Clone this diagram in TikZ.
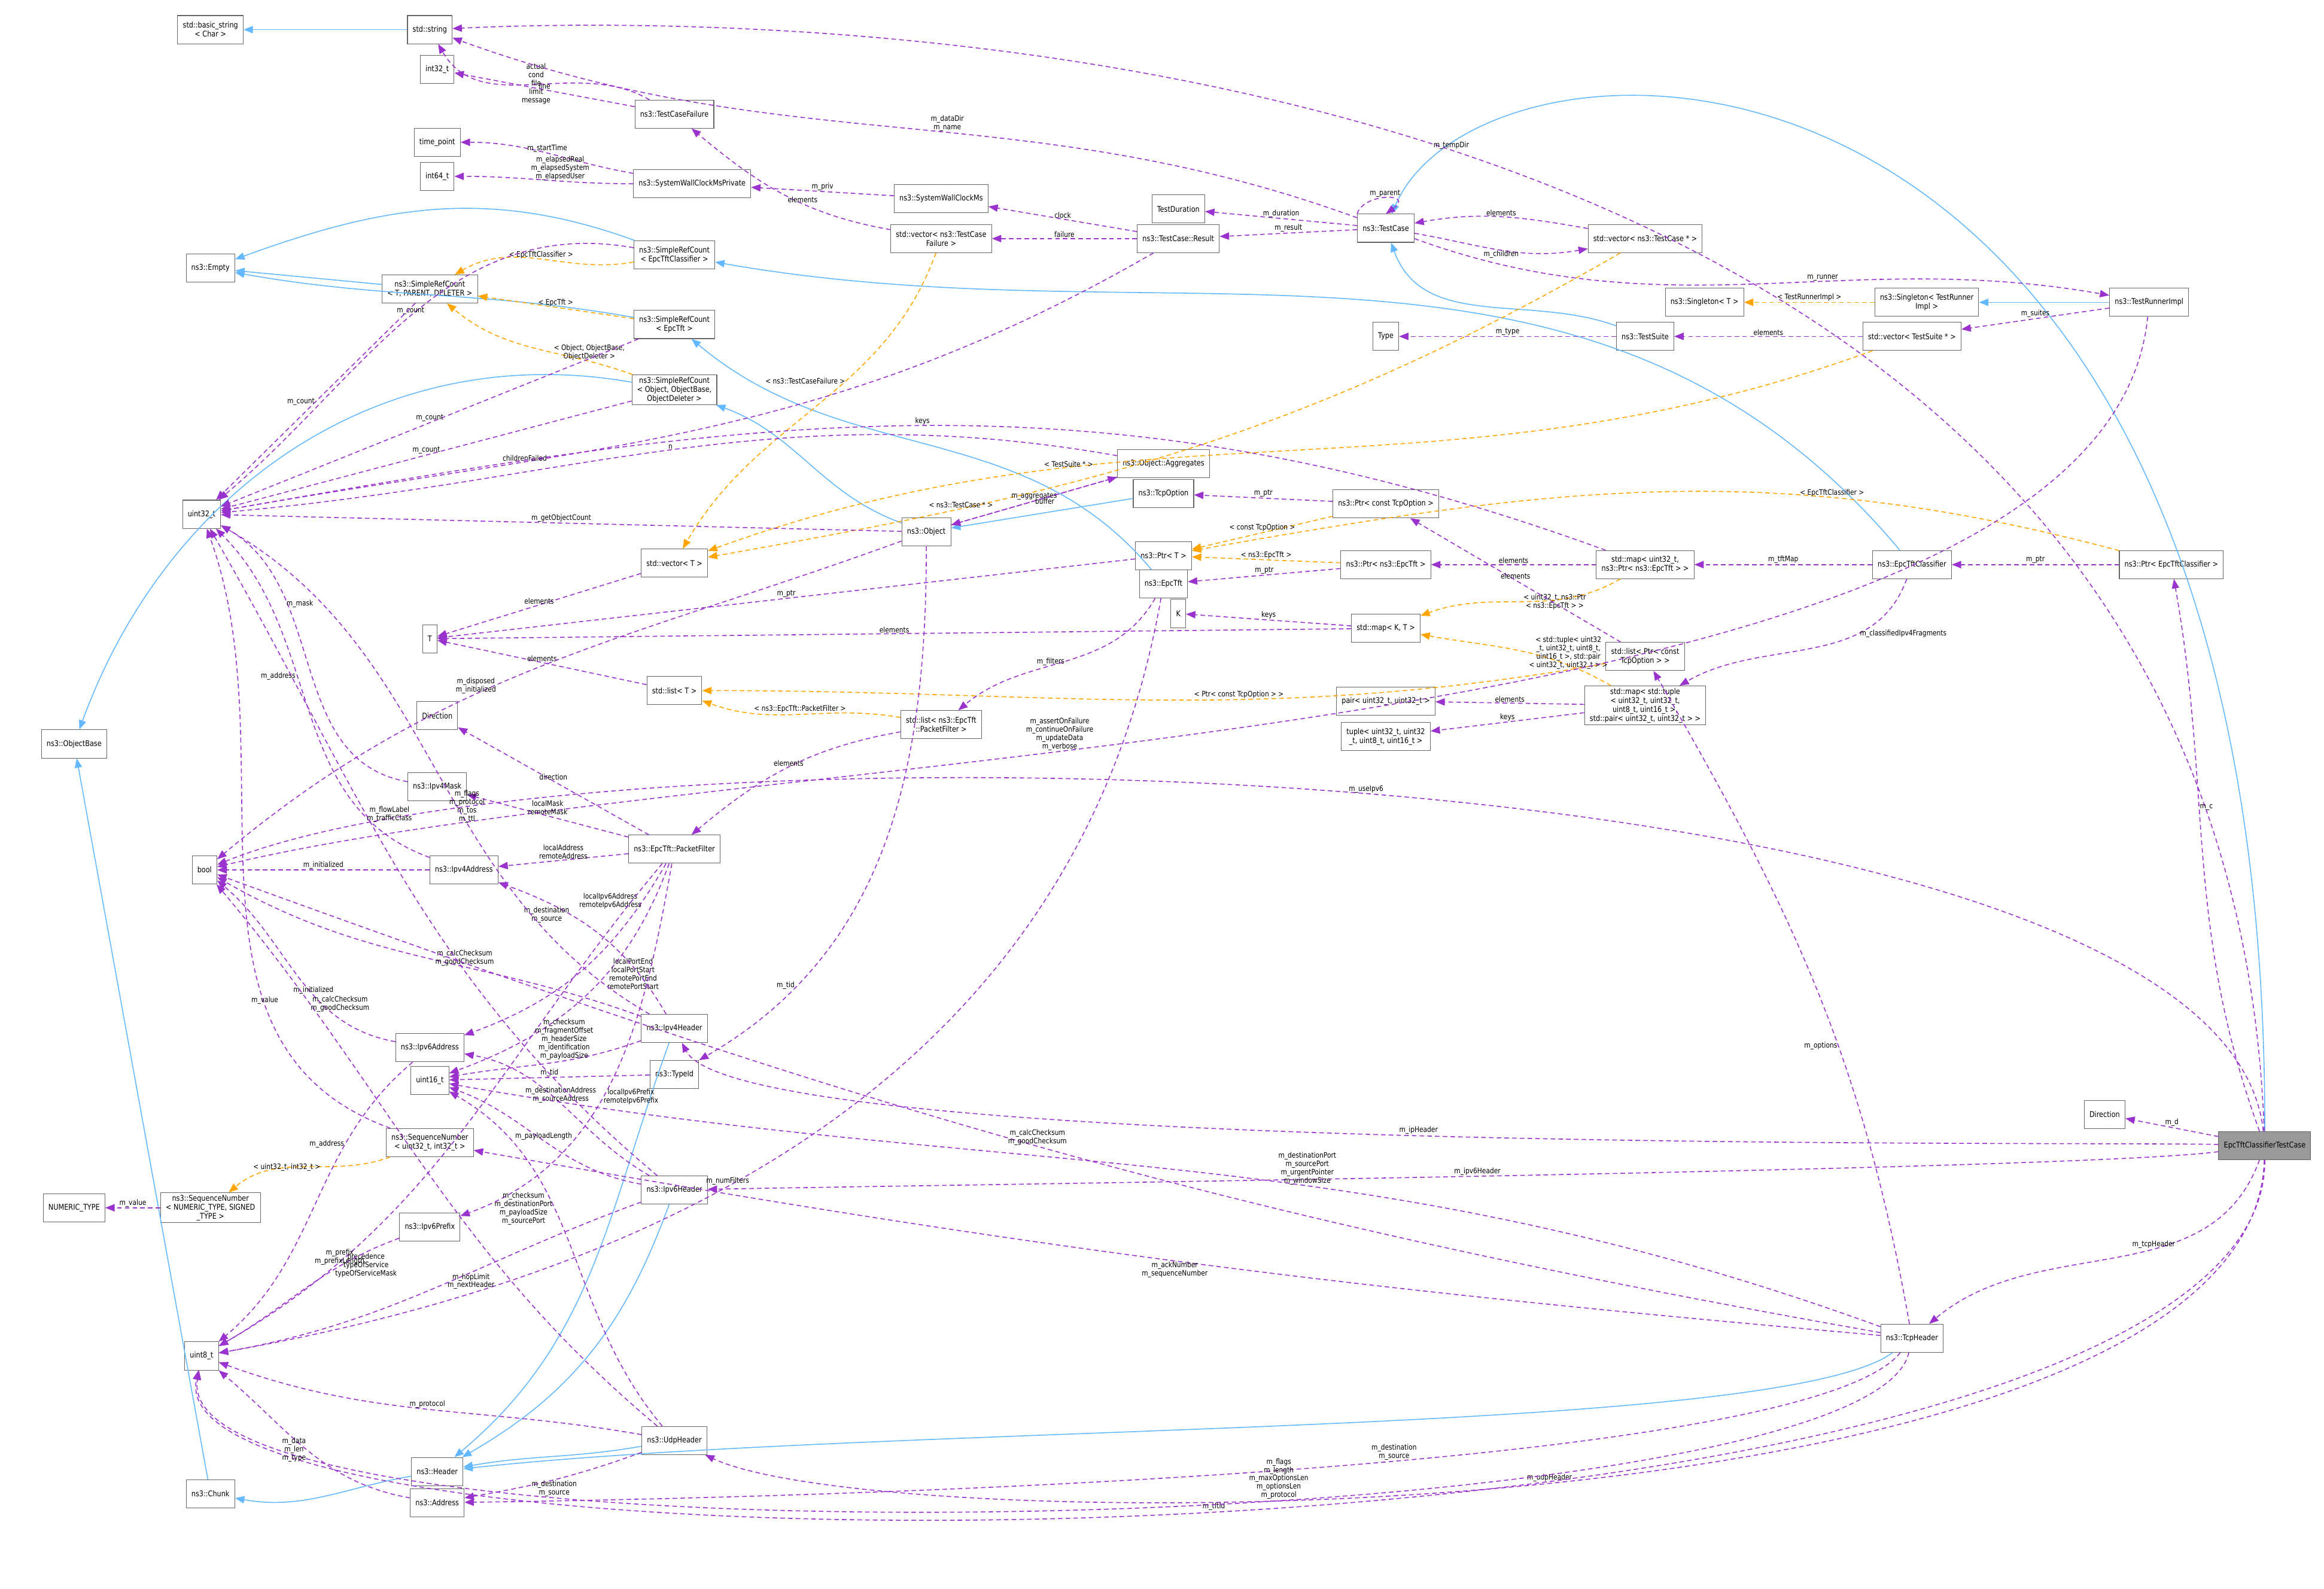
\documentclass[tikz,border=0pt]{standalone}
\usepackage{fontspec}
\setmainfont{DejaVu Sans}[FakeStretch=0.85]
\usetikzlibrary{arrows.meta}
\definecolor{usecol}{HTML}{9A32CD}
\definecolor{inhcol}{HTML}{63B8FF}
\definecolor{tplcol}{HTML}{FFA500}
\begin{document}
\begin{tikzpicture}[x=0.025cm,y=-0.025cm,
	cls/.style={
		rectangle,
		draw=black!60,
		line width=0.3pt,
		fill=white,
		align=center,
		inner xsep=2.5pt,
		inner ysep=1pt,
		minimum height=0.475cm,
		font=\fontsize{3.8}{4.3}\selectfont
	},
	mainbox/.style={
		cls,
		fill=black!40
	},
	use/.style={
		draw=usecol,
		line width=0.45pt,
		dash pattern=on 2.2pt off 1.5pt,
		-{Triangle[length=4.5pt,width=3.5pt,fill=usecol]}
	},
	inh/.style={
		draw=inhcol,
		line width=0.45pt,
		-{Triangle[length=4.5pt,width=3.5pt,fill=inhcol]}
	},
	tpl/.style={
		draw=tplcol,
		line width=0.45pt,
		dash pattern=on 2.2pt off 1.5pt,
		-{Triangle[length=4.5pt,width=3.5pt,fill=tplcol]}
	},
	lbl/.style={
		align=center,
		inner sep=0.3pt,
		font=\fontsize{3.6}{4}\selectfont
	},
]
\useasboundingbox (0,0) rectangle (1568,1072);

% left column
\node[cls] (bstr) at (142,20) {std::basic\_string\\< Char >};
\node[cls] (string) at (290,20) {std::string};
\node[cls] (int32) at (295,47) {int32\_t};
\node[cls] (timepoint) at (295,96) {time\_point};
\node[cls] (int64) at (295,119) {int64\_t};
\node[cls] (empty) at (142,181) {ns3::Empty};
\node[cls] (objbase) at (50,502) {ns3::ObjectBase};
\node[cls] (u32) at (136,347) {uint32\_t};
\node[cls] (T) at (290,431) {T};
\node[cls] (dirpf) at (295,483) {Direction};
\node[cls] (bool) at (138,587) {bool};
\node[cls] (ipv4mask) at (295,531) {ns3::Ipv4Mask};
\node[cls] (ipv4addr) at (313,587) {ns3::Ipv4Address};
\node[cls] (ipv6addr) at (290,707) {ns3::Ipv6Address};
\node[cls] (u16) at (290,729) {uint16\_t};
\node[cls] (seqU) at (290,771) {ns3::SequenceNumber\\< uint32\_t, int32\_t >};
\node[cls] (numtype) at (50,815) {NUMERIC\_TYPE};
\node[cls] (seqN) at (142,815) {ns3::SequenceNumber\\< NUMERIC\_TYPE, SIGNED\\\_TYPE >};
\node[cls] (ipv6prefix) at (290,828) {ns3::Ipv6Prefix};
\node[cls] (u8) at (136,915) {uint8\_t};
\node[cls] (chunk) at (142,1008) {ns3::Chunk};
\node[cls] (header) at (295,993) {ns3::Header};
\node[cls] (address) at (295,1014) {ns3::Address};

% middle column
\node[cls] (failure) at (455,77) {ns3::TestCaseFailure};
\node[cls] (swcpriv) at (467,124) {ns3::SystemWallClockMsPrivate};
\node[cls] (srcCls) at (455,172) {ns3::SimpleRefCount\\< EpcTftClassifier >};
\node[cls] (srcTPD) at (290,195) {ns3::SimpleRefCount\\< T, PARENT, DELETER >};
\node[cls] (srcTft) at (455,219) {ns3::SimpleRefCount\\< EpcTft >};
\node[cls] (srcObj) at (455,263) {ns3::SimpleRefCount\\< Object, ObjectBase,\\ ObjectDeleter >};
\node[cls] (object) at (625,359) {ns3::Object};
\node[cls] (vecT) at (455,380) {std::vector< T >};
\node[cls] (listT) at (455,466) {std::list< T >};
\node[cls] (pf) at (455,573) {ns3::EpcTft::PacketFilter};
\node[cls] (ipv4h) at (455,694) {ns3::Ipv4Header};
\node[cls] (typeid) at (455,725) {ns3::TypeId};
\node[cls] (ipv6h) at (455,803) {ns3::Ipv6Header};
\node[cls] (udph) at (455,972) {ns3::UdpHeader};
\node[cls] (swc) at (635,134) {ns3::SystemWallClockMs};
\node[cls] (vecFail) at (635,161) {std::vector< ns3::TestCase\\Failure >};
\node[cls] (result) at (795,161) {ns3::TestCase::Result};
\node[cls] (duration) at (795,141) {TestDuration};
\node[cls] (testcase) at (935,154) {ns3::TestCase};
\node[cls] (vecTC) at (1110,161) {std::vector< ns3::TestCase * >};
\node[cls] (aggr) at (785,313) {ns3::Object::Aggregates};
\node[cls] (tcpopt) at (785,333) {ns3::TcpOption};
\node[cls] (ptrT) at (785,375) {ns3::Ptr< T >};
\node[cls] (epctft) at (785,394) {ns3::EpcTft};
\node[cls] (ptrOpt) at (935,340) {ns3::Ptr< const TcpOption >};
\node[cls] (ptrTft) at (935,381) {ns3::Ptr< ns3::EpcTft >};
\node[cls] (K) at (795,414) {K};
\node[cls] (mapKT) at (935,424) {std::map< K, T >};
\node[cls] (listPF) at (635,489) {std::list< ns3::EpcTft\\::PacketFilter >};
\node[cls] (mapTft) at (1110,381) {std::map< uint32\_t,\\ ns3::Ptr< ns3::EpcTft > >};
\node[cls] (listOpt) at (1110,443) {std::list< Ptr< const\\ TcpOption > >};
\node[cls] (pair) at (935,473) {pair< uint32\_t, uint32\_t >};
\node[cls] (tuple) at (935,497) {tuple< uint32\_t, uint32\\\_t, uint8\_t, uint16\_t >};
\node[cls] (mapTuple) at (1110,476) {std::map< std::tuple\\< uint32\_t, uint32\_t,\\ uint8\_t, uint16\_t >,\\ std::pair< uint32\_t, uint32\_t > >};
\node[cls] (classifier) at (1290,381) {ns3::EpcTftClassifier};
\node[cls] (ptrCls) at (1465,381) {ns3::Ptr< EpcTftClassifier >};
\node[cls] (singT) at (1150,204) {ns3::Singleton< T >};
\node[cls] (singR) at (1300,204) {ns3::Singleton< TestRunner\\Impl >};
\node[cls] (runner) at (1450,204) {ns3::TestRunnerImpl};
\node[cls] (type) at (935,227) {Type};
\node[cls] (suite) at (1110,227) {ns3::TestSuite};
\node[cls] (vecSuite) at (1290,227) {std::vector< TestSuite * >};
\node[cls] (dirmain) at (1420,752) {Direction};
\node[mainbox] (main) at (1528,773) {EpcTftClassifierTestCase};
\node[cls] (tcph) at (1290,903) {ns3::TcpHeader};

% inheritance
\draw[inh] (string) -- (bstr);
\draw[inh] (srcCls) to[out=160,in=20] (empty);
\draw[inh] (srcTPD) -- (empty);
\draw[inh] (srcTft) to[out=170,in=-10] (empty);
\draw[inh] (srcObj) to[out=170,in=70] (objbase);
\draw[inh] (object) to[out=160,in=-20] (srcObj);
\draw[inh] (tcpopt) -- (object);
\draw[inh] (epctft) to[out=130,in=-40] (srcTft);
\draw[inh] (classifier) to[out=130,in=-10] (srcCls);
\draw[inh] (suite) to[out=160,in=-70] (testcase);
\draw[inh] (runner) -- (singR);
\draw[inh] (main) .. controls (1530,-20) and (1000,0) .. (testcase);
\draw[inh] (ipv4h) to[out=-110,in=40] (header);
\draw[inh] (ipv6h) to[out=-110,in=30] (header);
\draw[inh] (udph) to[out=-170,in=10] (header);
\draw[inh] (tcph) .. controls (1200,970) and (600,960) .. (header);
\draw[inh] (header) to[out=-170,in=-10] (chunk);
\draw[inh] (chunk) -- (objbase);

% templates
\draw[tpl] (singR) -- node[lbl,above] {< TestRunnerImpl >} (singT);
\draw[tpl] (vecSuite) to[out=-160,in=20] node[lbl,pos=0.7,above] {< TestSuite * >} (vecT);
\draw[tpl] (vecTC) to[out=-150,in=10] node[lbl,pos=0.75,above] {< ns3::TestCase * >} (vecT);
\draw[tpl] (vecFail) to[out=-110,in=60] node[lbl,pos=0.4,left] {< ns3::TestCaseFailure >} (vecT);
\draw[tpl] (ptrCls) to[out=165,in=10] node[lbl,pos=0.3,above] {< EpcTftClassifier >} (ptrT);
\draw[tpl] (ptrTft) -- node[lbl,above] {< ns3::EpcTft >} (ptrT);
\draw[tpl] (ptrOpt) -- node[lbl,above] {< const TcpOption >} (ptrT);
\draw[tpl] (mapTft) to[out=-150,in=20] node[lbl,right,pos=0.5] {< uint32\_t, ns3::Ptr\\< ns3::EpcTft > >} (mapKT);
\draw[tpl] (mapTuple) to[out=150,in=-10] node[lbl,pos=0.45,right] {< std::tuple< uint32\\\_t, uint32\_t, uint8\_t,\\ uint16\_t >, std::pair\\< uint32\_t, uint32\_t > >} (mapKT);
\draw[tpl] (listOpt) to[out=-170,in=0] node[lbl,pos=0.4,above] {< Ptr< const TcpOption > >} (listT);
\draw[tpl] (listPF) to[out=170,in=-20] node[lbl,above] {< ns3::EpcTft::PacketFilter >} (listT);
\draw[tpl] (srcCls) to[out=-170,in=30] node[lbl,above] {< EpcTftClassifier >} (srcTPD);
\draw[tpl] (srcTft) -- node[lbl,above] {< EpcTft >} (srcTPD);
\draw[tpl] (srcObj) to[out=160,in=-40] node[lbl,pos=0.4,right] {< Object, ObjectBase,\\ ObjectDeleter >} (srcTPD);
\draw[tpl] (seqU) to[out=-160,in=40] node[lbl,pos=0.4,left] {< uint32\_t, int32\_t >} (seqN);

% members
\draw[use] (failure) to[out=150,in=-60] node[lbl,pos=0.55,right] {actual\\cond\\file\\limit\\message} (string);
\draw[use] (failure) -- node[lbl,above] {line} (int32);
\draw[use] (swcpriv) to[out=170,in=0] node[lbl,above] {m\_startTime} (timepoint);
\draw[use] (swcpriv) to[out=180,in=0] node[lbl,above,pos=0.4] {m\_elapsedReal\\m\_elapsedSystem\\m\_elapsedUser} (int64);
\draw[use] (swc) -- node[lbl,above] {m\_priv} (swcpriv);
\draw[use] (result) -- node[lbl,above] {clock} (swc);
\draw[use] (result) -- node[lbl,above] {failure} (vecFail);
\draw[use] (vecFail) to[out=170,in=-40] node[lbl,above,pos=0.4] {elements} (failure);
\draw[use] (testcase) -- node[lbl,above] {m\_duration} (duration);
\draw[use] (testcase) -- node[lbl,above] {m\_result} (result);
\draw[use] (testcase.north west) .. controls (920,130) and (955,130) .. node[lbl,above] {m\_parent} (testcase.north);
\draw[use] (testcase) to[out=160,in=-20] node[lbl,above,pos=0.45] {m\_dataDir\\m\_name} (string);
\draw[use] (vecTC) to[out=170,in=10] node[lbl,above] {elements} (testcase);
\draw[use] (testcase) to[out=-10,in=-170] node[lbl,below] {m\_children} (vecTC);
\draw[use] (testcase) to[out=-20,in=170] node[lbl,above,pos=0.6] {m\_runner} (runner);
\draw[use] (result) to[out=-150,in=10] node[lbl,above,pos=0.7] {childrenFailed} (u32);
\draw[use] (runner) -- node[lbl,above] {m\_suites} (vecSuite);
\draw[use] (vecSuite) -- node[lbl,above] {elements} (suite);
\draw[use] (suite) -- node[lbl,above] {m\_type} (type);
\draw[use] (runner) .. controls (1420,510) and (500,500) .. node[lbl,pos=0.62,above] {m\_assertOnFailure\\m\_continueOnFailure\\m\_updateData\\m\_verbose} (bool);
\draw[use] (main) .. controls (1500,0) and (500,10) .. node[lbl,pos=0.5,above] {m\_tempDir} (string);
\draw[use] (main) -- node[lbl,above] {m\_d} (dirmain);
\draw[use] (main) to[out=110,in=-80] node[lbl,pos=0.6,right] {m\_c} (ptrCls);
\draw[use] (main) .. controls (1400,770) and (500,780) .. node[lbl,above,pos=0.5] {m\_ipHeader} (ipv4h);
\draw[use] (main) .. controls (1400,790) and (600,800) .. node[lbl,above,pos=0.5] {m\_ipv6Header} (ipv6h);
\draw[use] (main) to[out=-110,in=40] node[lbl,above,pos=0.4] {m\_tcpHeader} (tcph);
\draw[use] (main) .. controls (1520,1040) and (600,1040) .. node[lbl,above,pos=0.5] {m\_udpHeader} (udph);
\draw[use] (main) .. controls (1500,500) and (400,480) .. node[lbl,above,pos=0.5] {m\_useIpv6} (bool);
\draw[use] (main) .. controls (1530,1070) and (100,1080) .. node[lbl,above,pos=0.5] {m\_tftId} (u8);
\draw[use] (ptrCls) -- node[lbl,above] {m\_ptr} (classifier);
\draw[use] (classifier) -- node[lbl,above] {m\_tftMap} (mapTft);
\draw[use] (classifier) to[out=-110,in=30] node[lbl,right,pos=0.3] {m\_classifiedIpv4Fragments} (mapTuple);
\draw[use] (mapTft) -- node[lbl,above] {elements} (ptrTft);
\draw[use] (mapTft) to[out=160,in=10] node[lbl,above,pos=0.5] {keys} (u32);
\draw[use] (ptrTft) -- node[lbl,above] {m\_ptr} (epctft);
\draw[use] (epctft) to[out=-120,in=40] node[lbl,pos=0.5,left] {m\_filters} (listPF);
\draw[use] (epctft) to[out=-100,in=10] node[lbl,pos=0.6,above] {m\_numFilters} (u8);
\draw[use] (listPF) to[out=-170,in=40] node[lbl,above] {elements} (pf);
\draw[use] (mapTuple) -- node[lbl,above] {elements} (pair);
\draw[use] (mapTuple) -- node[lbl,above] {keys} (tuple);
\draw[use] (mapKT) -- node[lbl,above] {keys} (K);
\draw[use] (mapKT) -- node[lbl,above] {elements} (T);
\draw[use] (listT) -- node[lbl,above] {elements} (T);
\draw[use] (vecT) -- node[lbl,above] {elements} (T);
\draw[use] (ptrT) -- node[lbl,above] {m\_ptr} (T);
\draw[use] (listOpt) -- node[lbl,above] {elements} (ptrOpt);
\draw[use] (ptrOpt) -- node[lbl,above] {m\_ptr} (tcpopt);
\draw[use] (object) -- node[lbl,above] {m\_aggregates} (aggr);
\draw[use] (aggr) -- node[lbl,right] {buffer} (object);
\draw[use] (aggr) to[out=170,in=5] node[lbl,above] {n} (u32);
\draw[use] (object) -- node[lbl,above] {m\_getObjectCount} (u32);
\draw[use] (object) to[out=-160,in=40] node[lbl,above,pos=0.6] {m\_disposed\\m\_initialized} (bool);
\draw[use] (object) to[out=-90,in=30] node[lbl,left,pos=0.8] {m\_tid} (typeid);
\draw[use] (srcObj) -- node[lbl,above] {m\_count} (u32);
\draw[use] (srcTft) -- node[lbl,above] {m\_count} (u32);
\draw[use] (srcCls) to[out=170,in=40] node[lbl,above] {m\_count} (u32);
\draw[use] (srcTPD) -- node[lbl,left] {m\_count} (u32);
\draw[use] (typeid) -- node[lbl,above] {m\_tid} (u16);
\draw[use] (pf) -- node[lbl,above] {direction} (dirpf);
\draw[use] (pf) -- node[lbl,above] {localMask\\remoteMask} (ipv4mask);
\draw[use] (pf) -- node[lbl,above] {localAddress\\remoteAddress} (ipv4addr);
\draw[use] (pf) to[out=-120,in=20] node[lbl,pos=0.15,left] {localIpv6Address\\remoteIpv6Address} (ipv6addr);
\draw[use] (pf) to[out=-110,in=20] node[lbl,pos=0.4,right] {localPortEnd\\localPortStart\\remotePortEnd\\remotePortStart} (u16);
\draw[use] (pf) to[out=-100,in=20] node[lbl,pos=0.55,right] {localIpv6Prefix\\remoteIpv6Prefix} (ipv6prefix);
\draw[use] (pf) to[out=-130,in=30] node[lbl,pos=0.8,right] {precedence\\typeOfService\\typeOfServiceMask} (u8);
\draw[use] (ipv4mask) to[out=170,in=-30] node[lbl,pos=0.7,right] {m\_mask} (u32);
\draw[use] (ipv4addr) to[out=160,in=-45] node[lbl,pos=0.6,left] {m\_address} (u32);
\draw[use] (ipv4addr) -- node[lbl,above] {m\_initialized} (bool);
\draw[use] (ipv6addr) to[out=-140,in=40] node[lbl,pos=0.3,left] {m\_address} (u8);
\draw[use] (ipv6addr) to[out=170,in=-40] node[lbl,above,pos=0.4] {m\_initialized} (bool);
\draw[use] (ipv6prefix) to[out=-160,in=30] node[lbl,above,pos=0.3] {m\_prefix\\m\_prefixLength} (u8);
\draw[use] (seqN) -- node[lbl,above] {m\_value} (numtype);
\draw[use] (seqU) to[out=160,in=-70] node[lbl,above,pos=0.3] {m\_value} (u32);
\draw[use] (ipv4h) to[out=120,in=-20] node[lbl,left,pos=0.65] {m\_destination\\m\_source} (ipv4addr);
\draw[use] (ipv4h) to[out=160,in=-30] node[lbl,above,pos=0.4] {m\_calcChecksum\\m\_goodChecksum} (bool);
\draw[use] (ipv4h) to[out=-160,in=10] node[lbl,pos=0.4,above] {m\_checksum\\m\_fragmentOffset\\m\_headerSize\\m\_identification\\m\_payloadSize} (u16);
\draw[use] (ipv4h) to[out=150,in=-30] node[lbl,pos=0.4,above] {m\_flags\\m\_protocol\\m\_tos\\m\_ttl} (u32);
\draw[use] (ipv6h) to[out=150,in=-10] node[lbl,pos=0.5,above] {m\_destinationAddress\\m\_sourceAddress} (ipv6addr);
\draw[use] (ipv6h) to[out=140,in=-60] node[lbl,pos=0.6,right] {m\_flowLabel\\m\_trafficClass} (u32);
\draw[use] (ipv6h) to[out=170,in=-20] node[lbl,pos=0.5,above] {m\_payloadLength} (u16);
\draw[use] (ipv6h) to[out=-160,in=10] node[lbl,pos=0.4,below] {m\_hopLimit\\m\_nextHeader} (u8);
\draw[use] (udph) to[out=-160,in=10] node[lbl,pos=0.5,below] {m\_destination\\m\_source} (address);
\draw[use] (udph) to[out=140,in=-50] node[lbl,pos=0.8,right] {m\_calcChecksum\\m\_goodChecksum} (bool);
\draw[use] (udph) to[out=130,in=-30] node[lbl,pos=0.6,left] {m\_checksum\\m\_destinationPort\\m\_payloadSize\\m\_sourcePort} (u16);
\draw[use] (udph) to[out=170,in=-20] node[lbl,pos=0.5,above] {m\_protocol} (u8);
\draw[use] (tcph) to[out=100,in=-60] node[lbl,pos=0.4,left] {m\_options} (listOpt);
\draw[use] (tcph) to[out=160,in=-10] node[lbl,pos=0.4,above] {m\_destinationPort\\m\_sourcePort\\m\_urgentPointer\\m\_windowSize} (u16);
\draw[use] (tcph) to[out=170,in=-20] node[lbl,pos=0.5,above] {m\_calcChecksum\\m\_goodChecksum} (bool);
\draw[use] (tcph) to[out=175,in=-10] node[lbl,pos=0.5,below] {m\_ackNumber\\m\_sequenceNumber} (seqU);
\draw[use] (tcph) .. controls (1220,990) and (600,1010) .. node[lbl,pos=0.45,above] {m\_destination\\m\_source} (address);
\draw[use] (tcph) .. controls (1260,1040) and (110,1065) .. node[lbl,pos=0.4,above] {m\_flags\\m\_length\\m\_maxOptionsLen\\m\_optionsLen\\m\_protocol} (u8);
\draw[use] (address) to[out=170,in=-40] node[lbl,pos=0.5,left] {m\_data\\m\_len\\m\_type} (u8);

\end{tikzpicture}
\end{document}
